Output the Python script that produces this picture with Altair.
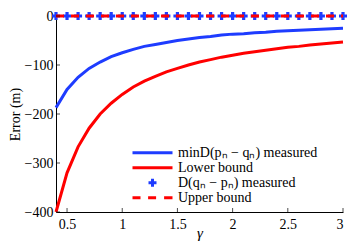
import altair as alt
import pandas as pd

gamma = [0.4, 0.5, 0.6, 0.7, 0.8, 0.9, 1.0, 1.1, 1.2, 1.3, 1.4, 1.5, 1.6, 1.7,
         1.8, 1.9, 2.0, 2.1, 2.2, 2.3, 2.4, 2.5, 2.6, 2.7, 2.8, 2.9, 3.0]
min_measured = [-187, -150, -125, -107, -94, -83, -75, -68, -62, -58, -54, -50, -47, -44,
                -42, -39, -37, -36, -34, -33, -31, -30, -29, -28, -27, -26, -25]
lower_bound = [-400, -320, -267, -229, -200, -178, -160, -145, -133, -123, -114, -107, -100, -94,
               -89, -84, -80, -76, -73, -70, -67, -64, -62, -59, -57, -55, -53]
d_measured = [0] * 27
upper_bound = [0] * 27

x_ticks = [0.5, 1, 1.5, 2, 2.5, 3]
y_ticks = [-400, -300, -200, -100, 0]

series_names = ["minD(pₙ − qₙ) measured", "Lower bound", "D(qₙ − pₙ) measured", "Upper bound"]
series_colors = ["#1e3cff", "#ff0000", "#1e3cff", "#ff0000"]
legend_shapes = ["M-1,0H1", "M-1,0H1", "M-0.2,0H0.2M0,-0.2V0.2",
                 "M-1,0H-0.6M-0.22,0H0.18M0.58,0H1"]

df = pd.DataFrame({"gamma": gamma, "minm": min_measured, "lower": lower_bound,
                   "dm": d_measured, "upper": upper_bound})
leg_df = pd.DataFrame({"series": series_names, "gamma": [gamma[0]] * 4, "v": [0] * 4})
xt_df = pd.DataFrame({"gamma": x_ticks})
yt_df = pd.DataFrame({"v": y_ticks})

FONT = "Liberation Serif"
W, H = 287, 196

xscale = alt.Scale(domain=[0.4, 3], nice=False, zero=False)
xaxis = alt.Axis(title="γ", values=x_ticks, format="~g",
                 grid=False, ticks=False, domainColor="black", domainWidth=1,
                 labelFont=FONT, labelFontSize=14, labelColor="black", labelPadding=5,
                 titleFont=FONT, titleFontSize=15, titleFontStyle="italic",
                 titleFontWeight="normal", titleColor="black", titlePadding=-6)
yscale = alt.Scale(domain=[-400, 0], nice=False)
yaxis = alt.Axis(title="Error (m)", values=y_ticks, grid=False, ticks=False,
                 domainColor="black", domainWidth=1, labelFont=FONT, labelFontSize=14,
                 labelColor="black", labelPadding=3, titleFont=FONT, titleFontSize=14,
                 titleFontWeight="normal", titleColor="black", titlePadding=2)

x = alt.X("gamma:Q", scale=xscale, axis=xaxis)

base = alt.Chart(df)
blue = base.mark_line(color="#1e3cff", strokeWidth=3, clip=False).encode(
    x=x, y=alt.Y("minm:Q", scale=yscale, axis=yaxis))
red = base.mark_line(color="#ff0000", strokeWidth=3, clip=False).encode(
    x=x, y=alt.Y("lower:Q", scale=yscale, axis=yaxis))
plus = base.mark_point(shape="cross", filled=True, color="#1e3cff", size=64, opacity=1,
                       clip=False).encode(x=x, y=alt.Y("dm:Q", scale=yscale, axis=yaxis))
upper = base.mark_line(color="#ff0000", strokeWidth=3, strokeDash=[8, 7], clip=False).encode(
    x=x, y=alt.Y("upper:Q", scale=yscale, axis=yaxis))

# inward tick marks
xticks = alt.Chart(xt_df).mark_tick(color="black", size=4, thickness=1).encode(
    x=x, y=alt.value(H - 2))
yticks = alt.Chart(yt_df).mark_tick(color="black", size=4, thickness=1).encode(
    y=alt.Y("v:Q", scale=yscale, axis=yaxis), x=alt.value(2))

leg_common = dict(title=None, orient="none", legendX=73, legendY=128,
                  labelFont=FONT, labelFontSize=14, labelColor="black", labelOffset=4,
                  symbolSize=1600, symbolStrokeWidth=3, symbolOpacity=1, clipHeight=13.3,
                  rowPadding=0, fillColor="white", padding=2, labelLimit=300)

legend_layer = alt.Chart(leg_df).mark_point(opacity=0, filled=False).encode(
    x=x,
    y=alt.Y("v:Q", scale=yscale, axis=yaxis),
    color=alt.Color("series:N", scale=alt.Scale(domain=series_names, range=series_colors),
                    legend=alt.Legend(symbolType="stroke", **leg_common)),
    shape=alt.Shape("series:N", scale=alt.Scale(domain=series_names, range=legend_shapes),
                    legend=alt.Legend(**leg_common)),
)

chart = alt.layer(blue, red, plus, upper, xticks, yticks, legend_layer).properties(
    width=W, height=H,
    autosize=alt.AutoSizeParams(type="none"),
    padding={"left": 48, "top": 8, "right": 6, "bottom": 31},
    background="white",
).configure_view(stroke=None)

chart.save("out.html", embed_options={"renderer": "svg", "actions": False})
